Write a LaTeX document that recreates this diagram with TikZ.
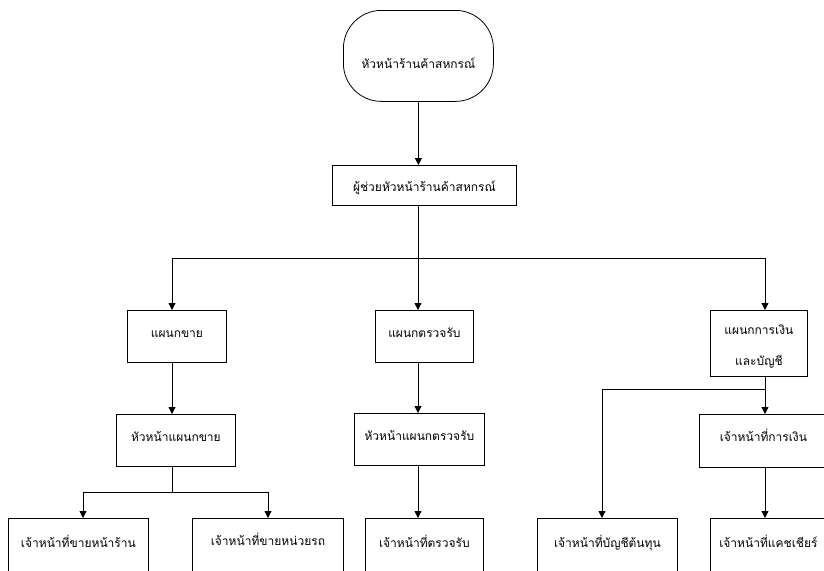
\documentclass[tikz,border=0pt]{standalone}
\usepackage{fontspec}
\newfontfamily\thaifont[Script=Thai]{Loma}
\usetikzlibrary{positioning,arrows.meta}

\tikzset{
    unit/.style={draw, rectangle, anchor=north west, inner sep=0pt, line width=0.8pt,
        minimum width=#1, font=\thaifont\fontsize{12}{14}\selectfont},
    toptext/.style 2 args={text height=#1, text depth=#2},
    link/.style={line width=0.8pt, -{Triangle[length=7pt,width=7pt]}},
    wire/.style={line width=0.8pt}
}

\begin{document}
\begin{tikzpicture}[x=1pt,y=-1pt]
    \useasboundingbox (0,0) rectangle (824,570);
    \fill[white] (0,0) rectangle (824,570);
    \clip (0,0) rectangle (824,570);

    % columns of the connectors
    \coordinate (colL) at (172,0);
    \coordinate (colR) at (765,0);
    \coordinate (colLL) at (83,0);
    \coordinate (colLR) at (268,0);
    \coordinate (colFC) at (602,0);
    \coordinate (bus) at (418,258);
    \coordinate (splitL) at (172,492);
    \coordinate (splitR) at (765,389);

    % top
    \node[unit=150pt, toptext={58pt}{33pt}, rounded corners=38pt] (chief) at (343,10) {หัวหน้าร้านค้าสหกรณ์};
    \node[unit=184pt, toptext={26pt}{14pt}] (assist) at (332,165) {ผู้ช่วยหัวหน้าร้านค้าสหกรณ์};

    % departments
    \node[unit=99pt, toptext={27pt}{25pt}] (sales) at (127,310) {แผนกขาย};
    \node[unit=98pt, toptext={27pt}{25pt}] (check) at (375,310) {แผนกตรวจรับ};
    \node[unit=97pt, minimum height=66pt, align=center] (finance) at (710,310) {\rule{0pt}{16pt}แผนกการเงิน\\[17pt]และบัญชี};

    % heads
    \node[unit=119pt, toptext={27pt}{25pt}] (salesHead) at (116,414) {หัวหน้าแผนกขาย};
    \node[unit=130pt, toptext={27pt}{25pt}] (checkHead) at (354,413) {หัวหน้าแผนกตรวจรับ};
    \node[unit=128pt, toptext={27pt}{26pt}] (cashOfficer) at (699,414) {เจ้าหน้าที่การเงิน};

    % staff
    \node[unit=140pt, toptext={29pt}{35pt}] (shopStaff) at (8,518) {เจ้าหน้าที่ขายหน้าร้าน};
    \node[unit=151pt, toptext={27pt}{37pt}] (carStaff) at (192,518) {เจ้าหน้าที่ขายหน่วยรถ};
    \node[unit=118pt, toptext={29pt}{35pt}] (checkStaff) at (365,518) {เจ้าหน้าที่ตรวจรับ};
    \node[unit=140pt, toptext={29pt}{35pt}] (costStaff) at (537,518) {เจ้าหน้าที่บัญชีต้นทุน};
    \node[unit=116pt, toptext={29pt}{35pt}] (cashier) at (710,518) {เจ้าหน้าที่แคชเชียร์};

    % connectors
    \draw[link] (chief) -- (assist.north -| chief.south);
    \draw[wire] (assist.south -| bus) -- (bus);
    \draw[wire] (bus -| colL) -- (bus -| colR);
    \draw[link] (bus -| colL) -- (sales.north -| colL);
    \draw[link] (bus) -- (check.north -| bus);
    \draw[link] (bus -| colR) -- (finance.north -| colR);

    \draw[link] (sales.south -| colL) -- (salesHead.north -| colL);
    \draw[wire] (salesHead.south -| colL) -- (splitL);
    \draw[link] (splitL) -| (shopStaff.north -| colLL);
    \draw[link] (splitL) -| (carStaff.north -| colLR);

    \draw[link] (check.south -| bus) -- (checkHead.north -| bus);
    \draw[link] (checkHead.south -| bus) -- (checkStaff.north -| bus);

    \draw[wire] (finance.south -| colR) -- (splitR);
    \draw[link] (splitR) -- (cashOfficer.north -| colR);
    \draw[link] (splitR) -| (costStaff.north -| colFC);
    \draw[link] (cashOfficer.south -| colR) -- (cashier.north -| colR);
\end{tikzpicture}
\end{document}
